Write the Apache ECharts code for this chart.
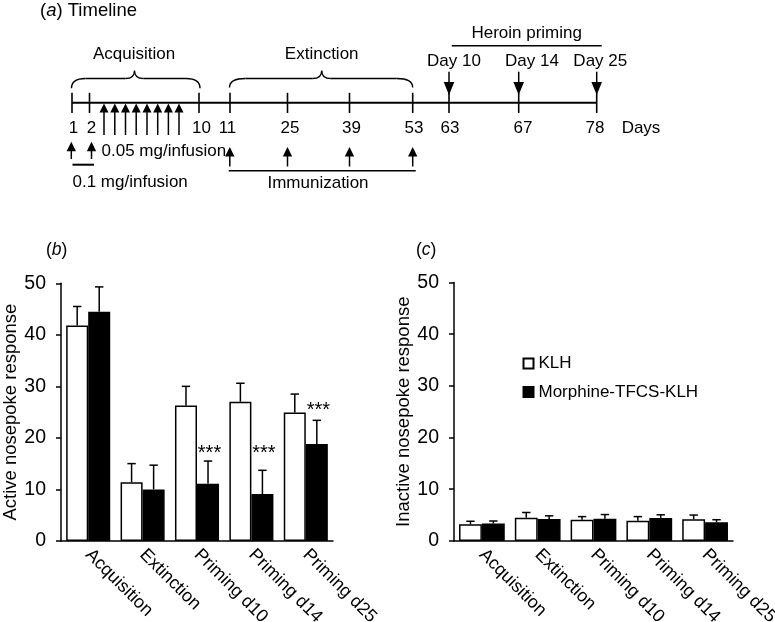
<!DOCTYPE html>
<html><head><meta charset="utf-8">
<script src="https://cdn.jsdelivr.net/npm/echarts@6/dist/echarts.min.js"></script>
<style>html,body{margin:0;padding:0;background:#fff}#c{width:775px;height:622px}</style>
</head><body><div id="c"></div>
<script>
// ---------- data ----------
const categories = ['Acquisition', 'Extinction', 'Priming d10', 'Priming d14', 'Priming d25'];
const groupNames = ['KLH', 'Morphine-TFCS-KLH'];
const yTicks = [0, 10, 20, 30, 40, 50];

const activeKLH = [41.8, 11.4, 26.3, 27.0, 24.9];
const activeKLHSem = [3.7, 3.6, 3.7, 3.6, 3.6];
const activeMorph = [44.5, 10.0, 11.1, 9.1, 18.8];
const activeMorphSem = [4.8, 4.7, 4.4, 4.6, 4.6];
const activeSig = ['', '', '***', '***', '***'];
const activeSigY = [null, null, 17.0, 17.0, 25.4];

const inactiveKLH = [3.2, 4.5, 4.1, 3.9, 4.2];
const inactiveKLHSem = [0.6, 1.0, 0.6, 0.8, 0.8];
const inactiveMorph = [3.35, 4.25, 4.3, 4.45, 3.6];
const inactiveMorphSem = [0.5, 0.6, 0.8, 0.6, 0.5];

// timeline labels
const timelineDays = ['1', '2', '10', '11', '25', '39', '53', '63', '67', '78'];
const primingDays = ['Day 10', 'Day 14', 'Day 25'];

// ---------- layout ----------
const FONT = '"Liberation Sans", Arial, Helvetica, sans-serif';
const dayTickX = [72, 89.5, 199, 230, 287.5, 349.5, 412.7, 449, 518.7, 596.7];
const dayLabelX = [73.5, 91.5, 201.5, 227.5, 290, 351.5, 414, 450, 523, 595];
const acqArrowX = [104, 114.8, 125.5, 136.2, 147, 157.7, 168.4, 179];
const immArrowX = [229.8, 287.5, 349.5, 412.7];
const primArrowX = [449, 518.7, 596.7];
const primLabelX = [454, 532, 600.3];

const G = [];
function L(x1, y1, x2, y2, w) {
  G.push({type: 'line', shape: {x1, y1, x2, y2}, style: {stroke: '#000', lineWidth: w || 1.5}, silent: true});
}
function T(x, y, t, opts) {
  G.push({type: 'text', x: x, y: y, silent: true,
    style: Object.assign({text: t, fill: '#000', fontSize: 17, fontFamily: FONT,
      textAlign: 'center', textVerticalAlign: 'middle', align: 'center', verticalAlign: 'middle'}, opts || {})});
}
function tri(points) {
  G.push({type: 'polygon', shape: {points}, style: {fill: '#000'}, silent: true});
}
function upArrow(x, tip, bottom, hw, hh) {
  L(x, tip + hh - 1, x, bottom, 1.5);
  tri([[x, tip], [x - hw, tip + hh], [x + hw, tip + hh]]);
}
function downArrow(x, top, tip, hw, hh) {
  L(x, top, x, tip - hh + 1, 1.5);
  tri([[x, tip], [x - hw, tip - hh], [x + hw, tip - hh]]);
}
function Q(x1, y1, cx, cy, x2, y2) {
  G.push({type: 'bezierCurve', shape: {x1, y1, x2, y2, cpx1: cx, cpy1: cy}, style: {stroke: '#000', lineWidth: 1.4, fill: null}, silent: true});
}
function brace(x1, x2, xm, yEnd, yFlat, yTip, r, rm) {
  Q(x1, yEnd, x1, yFlat, x1 + r, yFlat);
  L(x1 + r, yFlat, xm - rm, yFlat, 1.4);
  Q(xm - rm, yFlat, xm, yFlat, xm, yTip);
  Q(xm, yTip, xm, yFlat, xm + rm, yFlat);
  L(xm + rm, yFlat, x2 - r, yFlat, 1.4);
  Q(x2 - r, yFlat, x2, yFlat, x2, yEnd);
}
function italicLabel(x, y, letter, tail, size) {
  G.push({type: 'text', x: x, y: y, silent: true,
    style: {text: '({i|' + letter + '})' + tail, fill: '#000', fontSize: size, fontFamily: FONT,
      textAlign: 'left', align: 'left', textVerticalAlign: 'middle', verticalAlign: 'middle',
      rich: {i: {fontStyle: 'italic', fontSize: size, fontFamily: FONT}}}});
}

// title
italicLabel(40, 11, 'a', ' Timeline', 18.5);

// main line and ticks
const lineY = 102.8;
L(dayTickX[0], lineY, dayTickX[dayTickX.length - 1], lineY, 2);
dayTickX.forEach(x => L(x, 92.8, x, 113, 1.6));
timelineDays.forEach((d, i) => T(dayLabelX[i], 128.5, d));
T(641, 128.5, 'Days');

// acquisition arrows
acqArrowX.forEach(x => upArrow(x, 103.5, 135, 4.5, 9));
upArrow(71.3, 141.8, 159, 4.7, 9.5);
upArrow(91.5, 141.8, 159, 4.7, 9.5);
L(72.5, 164.7, 94, 164.7, 2);
T(101.5, 151.8, '0.05 mg/infusion', {textAlign: 'left', align: 'left'});
T(72.5, 182.8, '0.1 mg/infusion', {textAlign: 'left', align: 'left'});

// immunization
immArrowX.forEach(x => upArrow(x, 147, 166.5, 4.7, 9.5));
L(228.7, 170.7, 415.7, 170.7, 1.5);
T(318, 183.5, 'Immunization');

// braces
brace(71.5, 200, 134.5, 88.3, 78.5, 70.7, 14, 9);
T(134, 54, 'Acquisition');
brace(229.5, 412.7, 321.7, 87.5, 78.5, 70.7, 16, 9);
T(321.7, 54, 'Extinction');

// heroin priming
T(526.7, 33.5, 'Heroin priming');
L(451.7, 45.7, 601.7, 45.7, 1.5);
primingDays.forEach((d, i) => T(primLabelX[i], 61, d));
primArrowX.forEach(x => downArrow(x, 71.7, 95, 5.3, 13));

// panel labels
italicLabel(46, 250, 'b', '', 17.5);
italicLabel(416, 250, 'c', '', 17.5);

// ---------- chart ----------
const CAT_GAP = [0.19, 0.18];

function errSeries(name, grid, means, sems, side) {
  return {
    type: 'custom', name: name + ' err', xAxisIndex: grid, yAxisIndex: grid, z: 5,
    legendHoverLink: false, silent: true,
    data: means.map((m, i) => [i, m, sems[i]]),
    encode: {x: 0, y: 1},
    renderItem: function (params, api) {
      const ci = api.value(0), v = api.value(1), e = api.value(2);
      const base = api.coord([ci, v]);
      const top = api.coord([ci, v + e]);
      const band = api.size([1, 0])[0];
      const bw = band * (1 - CAT_GAP[grid]) / 2;
      const x = base[0] + side * bw / 2;
      const cap = 4.2;
      return {type: 'group', children: [
        {type: 'line', shape: {x1: x, y1: base[1], x2: x, y2: top[1]}, style: {stroke: '#000', lineWidth: 1.5}},
        {type: 'line', shape: {x1: x - cap, y1: top[1], x2: x + cap, y2: top[1]}, style: {stroke: '#000', lineWidth: 1.5}}
      ]};
    }
  };
}

function sigSeries(grid, labels, ys) {
  const data = [];
  ys.forEach((y, i) => { if (y != null) data.push([i, y]); });
  return {
    type: 'custom', name: 'sig', xAxisIndex: grid, yAxisIndex: grid, z: 6, silent: true,
    data: data, encode: {x: 0, y: 1},
    renderItem: function (params, api) {
      const ci = api.value(0), y = api.value(1);
      const p = api.coord([ci, y]);
      const band = api.size([1, 0])[0];
      const bw = band * (1 - CAT_GAP[grid]) / 2;
      return {type: 'text', x: p[0] + bw / 2 + 1.5, y: p[1],
        style: {text: labels[ci], fill: '#000', fontSize: 20, fontFamily: FONT,
          textAlign: 'center', align: 'center', textVerticalAlign: 'middle', verticalAlign: 'middle'}};
    }
  };
}

function barSeries(name, grid, data, fill) {
  return {
    type: 'bar', name: name, xAxisIndex: grid, yAxisIndex: grid, data: data,
    barGap: '0%', barCategoryGap: (CAT_GAP[grid] * 100) + '%',
    itemStyle: {color: fill, borderColor: '#000', borderWidth: 1.5},
    emphasis: {disabled: true}
  };
}

function xAxis(grid) {
  return {
    type: 'category', gridIndex: grid, data: categories,
    axisLine: {lineStyle: {color: '#000', width: 1.5}},
    axisTick: {length: 5, lineStyle: {color: '#000', width: 1.5}},
    axisLabel: {rotate: -45, fontSize: 18, color: '#000', fontFamily: FONT, margin: 11, interval: 0}
  };
}
function yAxis(grid, name, gap) {
  return {
    type: 'value', gridIndex: grid, min: yTicks[0], max: yTicks[yTicks.length - 1], interval: 10,
    splitLine: {show: false},
    axisLine: {show: true, lineStyle: {color: '#000', width: 1.5}},
    axisTick: {show: true, length: 5, lineStyle: {color: '#000', width: 1.5}},
    axisLabel: {fontSize: 19.5, color: '#000', fontFamily: FONT, margin: 15},
    name: name, nameLocation: 'middle', nameGap: gap,
    nameTextStyle: {fontSize: 18.5, color: '#000', fontFamily: FONT}
  };
}

const option = {
  animation: false,
  backgroundColor: '#fff',
  textStyle: {fontFamily: FONT, color: '#000'},
  graphic: G,
  grid: [
    {left: 61, top: 283.3, width: 272, height: 257.6, containLabel: false, outerBoundsMode: 'none'},
    {left: 454, top: 282.5, width: 279, height: 258.4, containLabel: false, outerBoundsMode: 'none'}
  ],
  xAxis: [xAxis(0), xAxis(1)],
  yAxis: [yAxis(0, 'Active nosepoke response', 38), yAxis(1, 'Inactive nosepoke response', 41)],
  legend: {
    data: groupNames, orient: 'vertical', left: 522.5, top: 354.5, icon: 'rect', padding: 0,
    itemWidth: 10, itemHeight: 10, itemGap: 10.5, selectedMode: false,
    textStyle: {fontSize: 17, color: '#000', fontFamily: FONT, lineHeight: 18}
  },
  series: [
    barSeries(groupNames[0], 0, activeKLH, '#fff'),
    barSeries(groupNames[1], 0, activeMorph, '#000'),
    errSeries(groupNames[0], 0, activeKLH, activeKLHSem, -1),
    errSeries(groupNames[1], 0, activeMorph, activeMorphSem, 1),
    sigSeries(0, activeSig, activeSigY),
    barSeries(groupNames[0], 1, inactiveKLH, '#fff'),
    barSeries(groupNames[1], 1, inactiveMorph, '#000'),
    errSeries(groupNames[0], 1, inactiveKLH, inactiveKLHSem, -1),
    errSeries(groupNames[1], 1, inactiveMorph, inactiveMorphSem, 1)
  ]
};

const chart = echarts.init(document.getElementById('c'), null, {renderer: 'canvas'});
chart.setOption(option);
</script>
</body></html>
